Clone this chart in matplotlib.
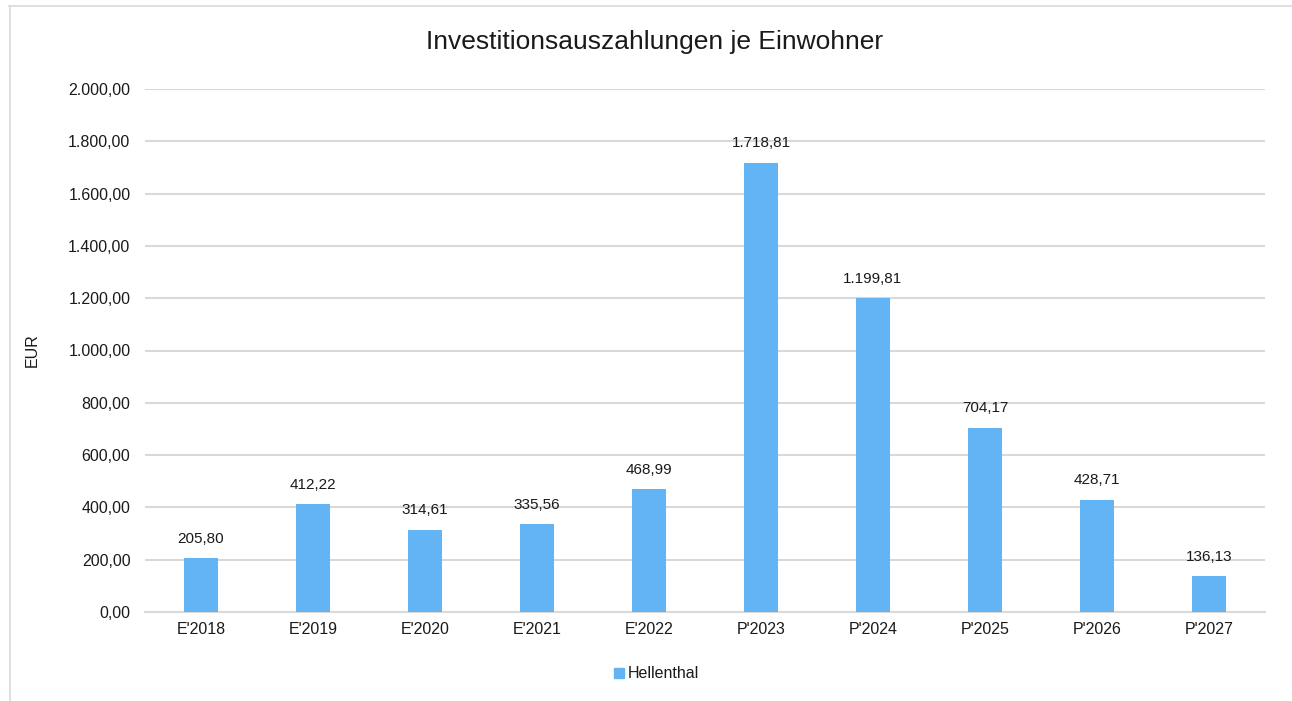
import matplotlib
matplotlib.use("Agg")
import matplotlib.pyplot as plt
from matplotlib.lines import Line2D
from matplotlib.ticker import FuncFormatter

plt.rcParams['font.family'] = ['Liberation Sans', 'DejaVu Sans']

categories = ["E'2018", "E'2019", "E'2020", "E'2021", "E'2022",
              "P'2023", "P'2024", "P'2025", "P'2026", "P'2027"]
values = [205.80, 412.22, 314.61, 335.56, 468.99,
          1718.81, 1199.81, 704.17, 428.71, 136.13]
series_name = "Hellenthal"
yticks = [0, 200, 400, 600, 800, 1000, 1200, 1400, 1600, 1800, 2000]


def de_fmt(v, pos=None):
    s = f"{v:,.2f}"
    return s.replace(",", "X").replace(".", ",").replace("X", ".")


bar_color = '#63B4F5'
grid_color = '#D9D9D9'
text_color = '#1A1A1A'

fig = plt.figure(figsize=(12.92, 7.01), dpi=100)
ax = fig.add_axes([145 / 1292, 1 - 612 / 701, 1120 / 1292, 523 / 701])

x = range(len(categories))
bars = ax.bar(x, values, width=0.31, color=bar_color, zorder=3)

for b, v in zip(bars, values):
    ax.annotate(de_fmt(v), (b.get_x() + b.get_width() / 2, v),
                xytext=(0, 9), textcoords='offset points',
                ha='center', va='bottom', fontsize=11, color=text_color)

ax.set_xlim(-0.5, len(categories) - 0.5)
ax.set_ylim(0, 2000)
ax.set_yticks(yticks)
ax.yaxis.set_major_formatter(FuncFormatter(de_fmt))
ax.set_xticks(list(x))
ax.set_xticklabels(categories)
ax.tick_params(axis='both', length=0, labelsize=11.5, colors=text_color)
ax.tick_params(axis='x', pad=7)
ax.tick_params(axis='y', pad=10.5)
ax.yaxis.grid(True, color=grid_color, linewidth=1.5, zorder=0)
for s in ['top', 'right', 'left']:
    ax.spines[s].set_visible(False)
ax.spines['bottom'].set_color(grid_color)
ax.spines['bottom'].set_linewidth(1.5)

ax.set_ylabel('EUR', fontsize=11.5, color=text_color)
ax.yaxis.set_label_coords(-105 / 1120, 0.5)

fig.text(655 / 1292, 1 - 42 / 701, 'Investitionsauszahlungen je Einwohner',
         ha='center', va='center', fontsize=19, color=text_color)

# legend
handle = Line2D([], [], marker='s', linestyle='none', markersize=7,
                markerfacecolor=bar_color, markeredgecolor=bar_color)
fig.legend([handle], [series_name], loc='center', bbox_to_anchor=(655 / 1292, 1 - 674 / 701),
           frameon=False, fontsize=11.5, handletextpad=0.0, handlelength=1.0,
           labelcolor=text_color)

# chart border (top and left)
fig.add_artist(Line2D([9 / 1292, 1], [1 - 5.5 / 701, 1 - 5.5 / 701], color=grid_color,
                      linewidth=1.2, transform=fig.transFigure))
fig.add_artist(Line2D([9.5 / 1292, 9.5 / 1292], [0, 1 - 5.5 / 701], color=grid_color,
                      linewidth=1.2, transform=fig.transFigure))

fig.savefig('out.png', dpi=100)
